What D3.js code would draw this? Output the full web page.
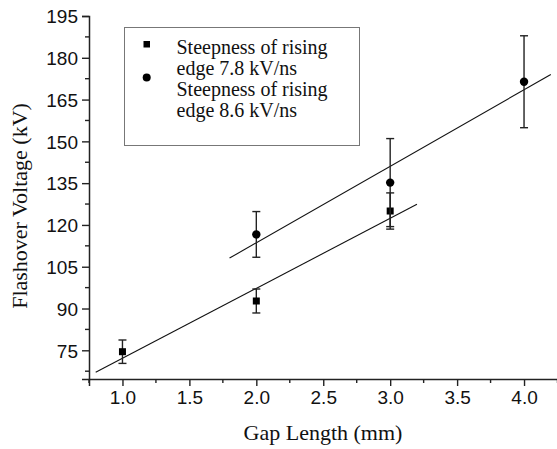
<!DOCTYPE html>
<html>
<head>
<meta charset="utf-8">
<script src="https://d3js.org/d3.v7.min.js"></script>
<style>
  body { margin: 0; background: #fff; }
  svg { display: block; }
  .tick-label { font-family: "Liberation Sans", Arial, sans-serif; font-size: 19px; fill: #111; }
  .title { font-family: "Liberation Serif", "Times New Roman", serif; font-size: 22px; fill: #111; }
  .legend-text { font-family: "Liberation Serif", "Times New Roman", serif; font-size: 20px; fill: #111; }
</style>
</head>
<body>
<svg id="chart" width="557" height="449"></svg>
<script>
// gap length (mm)
var gapLength = [1.0, 2.0, 3.0];
var gapLength2 = [2.0, 3.0, 4.0];

// steepness 7.8 kV/ns
var voltage78 = [74.5, 92.7, 125.0];
var err78 = [4.2, 4.3, 6.5];

// steepness 8.6 kV/ns
var voltage86 = [116.6, 135.2, 171.4];
var err86 = [8.2, 15.8, 16.5];

// fitted lines: [x0, y0, x1, y1]
var fit78 = [0.8, 67.1, 3.2, 127.4];
var fit86 = [1.8, 108.1, 4.2, 174.0];

var xTicks = [1.0, 1.5, 2.0, 2.5, 3.0, 3.5, 4.0];
var xMinor = [0.75, 1.25, 1.75, 2.25, 2.75, 3.25, 3.75, 4.25];
var yTicks = [75, 90, 105, 120, 135, 150, 165, 180, 195];
var yMinor = [67.5, 82.5, 97.5, 112.5, 127.5, 142.5, 157.5, 172.5, 187.5];

var legendLabels = [
  ["Steepness of rising", "edge 7.8 kV/ns"],
  ["Steepness of rising", "edge 8.6 kV/ns"]
];

var svg = d3.select("#chart");

var x = d3.scaleLinear().domain([0.75, 4.25]).range([89, 557.5]);
var y = d3.scaleLinear().domain([64.7, 195]).range([379, 16]);

var series = [
  {xs: gapLength, ys: voltage78, es: err78, fit: fit78, shape: "square"},
  {xs: gapLength2, ys: voltage86, es: err86, fit: fit86, shape: "circle"}
];

// fit lines
series.forEach(function(s) {
  svg.append("line")
    .attr("x1", x(s.fit[0])).attr("y1", y(s.fit[1]))
    .attr("x2", x(s.fit[2])).attr("y2", y(s.fit[3]))
    .attr("stroke", "#111")
    .attr("stroke-width", 1.1);
});

// error bars + markers
series.forEach(function(s) {
  var pts = s.xs.map(function(v, i) { return {x: v, y: s.ys[i], e: s.es[i]}; });
  var g = svg.append("g");
  var eb = g.selectAll(".eb").data(pts).enter().append("g").attr("class", "eb");
  eb.append("line")
    .attr("x1", function(d) { return x(d.x); })
    .attr("x2", function(d) { return x(d.x); })
    .attr("y1", function(d) { return y(d.y + d.e); })
    .attr("y2", function(d) { return y(d.y - d.e); })
    .attr("stroke", "#222").attr("stroke-width", 1.4);
  [1, -1].forEach(function(sign) {
    eb.append("line")
      .attr("x1", function(d) { return x(d.x) - 4; })
      .attr("x2", function(d) { return x(d.x) + 4; })
      .attr("y1", function(d) { return y(d.y + sign * d.e); })
      .attr("y2", function(d) { return y(d.y + sign * d.e); })
      .attr("stroke", "#222").attr("stroke-width", 1.4);
  });
  if (s.shape == "square") {
    g.selectAll(".m").data(pts).enter().append("rect")
      .attr("x", function(d) { return x(d.x) - 3.5; })
      .attr("y", function(d) { return y(d.y) - 3.5; })
      .attr("width", 7).attr("height", 7)
      .attr("fill", "#000");
  } else {
    g.selectAll(".m").data(pts).enter().append("circle")
      .attr("cx", function(d) { return x(d.x); })
      .attr("cy", function(d) { return y(d.y); })
      .attr("r", 4.2)
      .attr("fill", "#000");
  }
});

// axes
var xAxis = svg.append("g").attr("transform", "translate(0,379)");
xAxis.call(d3.axisBottom(x).tickValues(xTicks).tickFormat(d3.format(".1f")).tickSize(7).tickPadding(5));
xAxis.append("g").selectAll("line").data(xMinor).enter().append("line")
  .attr("x1", function(d) { return x(d); }).attr("x2", function(d) { return x(d); })
  .attr("y1", 0).attr("y2", 4);

var yAxis = svg.append("g").attr("transform", "translate(89,0)");
yAxis.call(d3.axisLeft(y).tickValues(yTicks).tickFormat(d3.format("d")).tickSize(7).tickPadding(4));
yAxis.append("g").selectAll("line").data(yMinor).enter().append("line")
  .attr("y1", function(d) { return y(d); }).attr("y2", function(d) { return y(d); })
  .attr("x1", 0).attr("x2", -4);

[xAxis, yAxis].forEach(function(a) {
  a.select(".domain").attr("stroke", "#222").attr("stroke-width", 1.5);
  a.selectAll("line").attr("stroke", "#222").attr("stroke-width", 1.4);
  a.selectAll(".tick text").attr("class", "tick-label").attr("font-family", null).attr("font-size", null);
});
yAxis.selectAll(".tick text").attr("dy", "0.36em");

// titles
svg.append("text").attr("class", "title")
  .attr("x", 323).attr("y", 440)
  .attr("text-anchor", "middle")
  .text("Gap Length (mm)");
svg.append("text").attr("class", "title")
  .attr("transform", "translate(27,206) rotate(-90)")
  .attr("text-anchor", "middle")
  .text("Flashover Voltage (kV)");

// legend
var lg = svg.append("g");
lg.append("rect")
  .attr("x", 124.5).attr("y", 27.5).attr("width", 235).attr("height", 118)
  .attr("fill", "#fff").attr("stroke", "#777").attr("stroke-width", 1);
lg.append("rect").attr("x", 143.5).attr("y", 41).attr("width", 6.5).attr("height", 6.5).attr("fill", "#000");
lg.append("circle").attr("cx", 146.7).attr("cy", 77.5).attr("r", 4).attr("fill", "#000");
legendLabels.forEach(function(lines, i) {
  lines.forEach(function(t, j) {
    lg.append("text").attr("class", "legend-text")
      .attr("x", 176.5).attr("y", 53.5 + (i * 2 + j) * 21)
      .text(t);
  });
});
</script>
</body>
</html>
